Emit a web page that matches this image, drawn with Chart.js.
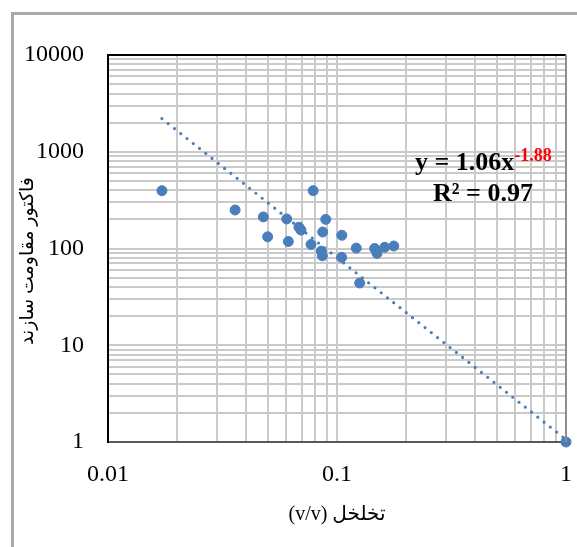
<!DOCTYPE html>
<html>
<head>
<meta charset="utf-8">
<script src="https://cdn.jsdelivr.net/npm/chart.js@4/dist/chart.umd.min.js"></script>
<style>
    body { margin: 0; background: #fff; }
    canvas { display: block; }
</style>
</head>
<body>
<canvas id="frfChart" width="577" height="547"></canvas>
<script>
// Data
const porosity = [0.0172, 0.0359, 0.0477, 0.0498, 0.0603, 0.0613, 0.0682, 0.0696, 0.0770, 0.0787,
    0.0893, 0.0866, 0.0854, 0.0863, 0.105, 0.1048, 0.1214, 0.1256, 0.146, 0.1495, 0.1616, 0.177, 1];
const resistivityFactor = [396, 250, 212, 132, 202, 118, 166, 155, 110, 396,
    200, 148, 94, 84, 137, 81, 101, 44, 100, 89, 103, 106, 1];

// Power trend line (Excel): endpoints
const trendX = [0.0172, 1];
const trendY = [2200, 1.06];
const trendCoef = '1.06';
const trendExp = '-1.88';
const trendR2 = '0.97';

// Tick labels and log grid decades
const xTickLabels = [0.01, 0.1, 1];
const yTickLabels = [1, 10, 100, 1000, 10000];

const xTitle = '\u202Bتخلخل (v/v)\u202C';
const yTitle = 'فاکتور مقاومت سازند';

const SERIF = "'Liberation Serif', 'Times New Roman', 'DejaVu Sans', serif";
const POINT_COLOR = '#4A7EBB';
const GRID_COLOR = '#CACACA';

// gridlines at 1..9 x each decade between the labelled powers of ten
function logGridValues(labels) {
    const values = [];
    for (let i = 0; i < labels.length - 1; i++) {
        for (let m = 1; m < 10; m++) {
            values.push(parseFloat((labels[i] * m).toPrecision(6)));
        }
    }
    values.push(labels[labels.length - 1]);
    return values;
}

function tickLabel(labels) {
    return function (value) {
        return labels.some(v => Math.abs(v - value) / v < 1e-6) ? String(value) : '';
    };
}

// outer frame, plot border, y title and trend line label
const decorPlugin = {
    id: 'decor',
    beforeDraw(chart) {
        const ctx = chart.ctx;
        ctx.save();
        ctx.strokeStyle = '#A9A9A9';
        ctx.lineWidth = 3;
        ctx.beginPath();
        ctx.moveTo(12.5, chart.height);
        ctx.lineTo(12.5, 13.5);
        ctx.lineTo(chart.width, 13.5);
        ctx.stroke();

        // y axis title (Excel puts it a little below the middle)
        ctx.translate(28, 261);
        ctx.rotate(-Math.PI / 2);
        ctx.fillStyle = '#000';
        ctx.textAlign = 'center';
        ctx.textBaseline = 'middle';
        ctx.font = '19px ' + SERIF;
        ctx.fillText(yTitle, 0, 0);
        ctx.restore();
    },
    afterDatasetsDraw(chart) {
        const ctx = chart.ctx;
        const area = chart.chartArea;
        ctx.save();
        // top and right plot border
        ctx.lineWidth = 2;
        ctx.strokeStyle = '#000';
        ctx.beginPath();
        ctx.moveTo(area.left, area.top);
        ctx.lineTo(area.right, area.top);
        ctx.stroke();
        ctx.strokeStyle = '#8C8C8C';
        ctx.beginPath();
        ctx.moveTo(area.right, area.top);
        ctx.lineTo(area.right, area.bottom);
        ctx.stroke();

        // equation label
        const x0 = area.left + 307;
        const y0 = area.top + 115;
        ctx.fillStyle = '#000';
        ctx.textBaseline = 'alphabetic';
        ctx.textAlign = 'left';
        ctx.font = 'bold 26px ' + SERIF;
        const main = 'y = ' + trendCoef + 'x';
        ctx.fillText(main, x0, y0);
        const w = ctx.measureText(main).width;
        ctx.font = 'bold 18px ' + SERIF;
        ctx.fillStyle = '#FF0000';
        ctx.fillText(trendExp, x0 + w, y0 - 9);
        ctx.font = 'bold 26px ' + SERIF;
        ctx.fillStyle = '#000';
        ctx.fillText('R² = ' + trendR2, x0 + 18, y0 + 31);
        ctx.restore();
    }
};

function initializeChart() {
    const ctx = document.getElementById('frfChart').getContext('2d');
    return new Chart(ctx, {
        type: 'scatter',
        data: {
            datasets: [{
                label: 'FRF',
                data: porosity.map((x, i) => ({ x: x, y: resistivityFactor[i] })),
                backgroundColor: POINT_COLOR,
                borderColor: POINT_COLOR,
                pointRadius: 5,
                pointHoverRadius: 5,
                order: 1
            }, {
                label: 'Power trend',
                type: 'line',
                data: trendX.map((x, i) => ({ x: x, y: trendY[i] })),
                borderColor: POINT_COLOR,
                borderWidth: 3.2,
                borderDash: [0, 8],
                borderCapStyle: 'round',
                pointRadius: 0,
                fill: false,
                order: 0
            }]
        },
        options: {
            responsive: false,
            animation: false,
            clip: false,
            layout: { padding: { left: 13, top: 55, right: 11, bottom: 16 } },
            plugins: {
                legend: { display: false },
                tooltip: { enabled: false }
            },
            scales: {
                x: {
                    type: 'logarithmic',
                    min: 0.01,
                    max: 1,
                    afterBuildTicks: scale => {
                        scale.ticks = logGridValues(xTickLabels).map(v => ({ value: v }));
                    },
                    afterFit: scale => { scale.height = 89; },
                    // invisible tick marks push the labels down without widening the side padding
                    grid: { color: GRID_COLOR, lineWidth: 2, drawTicks: true, tickLength: 15, tickColor: 'rgba(0,0,0,0)' },
                    border: { color: '#595959', width: 2 },
                    ticks: {
                        autoSkip: false,
                        maxRotation: 0,
                        padding: 3,
                        color: '#000',
                        font: { family: SERIF, size: 24 },
                        callback: tickLabel(xTickLabels)
                    },
                    title: {
                        display: true,
                        text: xTitle,
                        color: '#000',
                        font: { family: SERIF, size: 20 }
                    }
                },
                y: {
                    type: 'logarithmic',
                    min: 1,
                    max: 10000,
                    afterBuildTicks: scale => {
                        scale.ticks = logGridValues(yTickLabels).map(v => ({ value: v }));
                    },
                    afterFit: scale => { scale.width = 95; },
                    grid: { color: GRID_COLOR, lineWidth: 2, drawTicks: false },
                    border: { color: '#000', width: 2 },
                    ticks: {
                        autoSkip: false,
                        padding: 24,
                        color: '#000',
                        font: { family: SERIF, size: 24 },
                        callback: tickLabel(yTickLabels)
                    }
                }
            }
        },
        plugins: [decorPlugin]
    });
}

document.addEventListener('DOMContentLoaded', () => {
    initializeChart();
});
</script>
</body>
</html>
